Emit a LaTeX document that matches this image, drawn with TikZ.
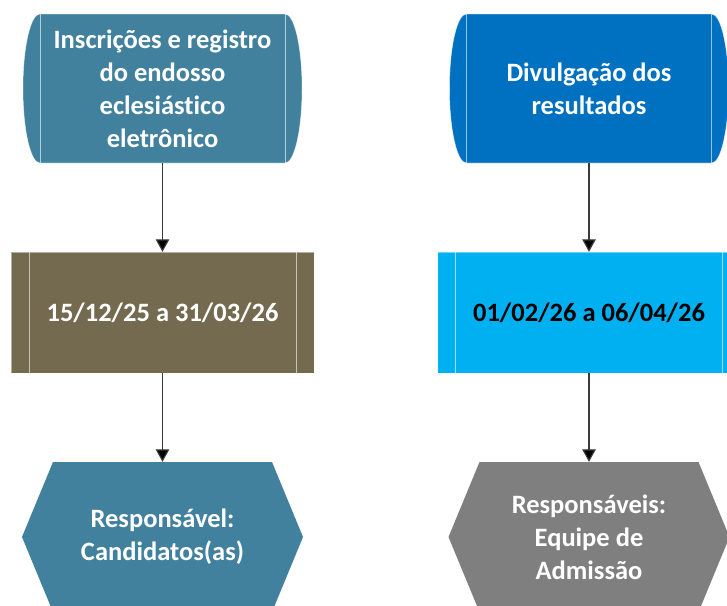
\documentclass[tikz,border=0pt]{standalone}
\usepackage{fontspec}
\setmainfont[Ligatures={NoCommon}]{Carlito}
\usetikzlibrary{arrows.meta}
\definecolor{tealc}{HTML}{41819E}
\definecolor{bluec}{HTML}{0070C0}
\definecolor{olivec}{HTML}{736A50}
\definecolor{cyanc}{HTML}{00B0F0}
\definecolor{grayc}{HTML}{7F7F7F}
\definecolor{linec}{HTML}{3A3A3A}
\newcommand\mydrum[2]{% center x, colour
  \begin{scope}[shift={(#1,88.5)}]
    \path[fill=#2,draw=white,draw opacity=0.45,line width=0.6pt]
      (-122.5,-74.5) -- (122.5,-74.5)
      .. controls (131.9,-74.5) and (139.5,-41.1) .. (139.5,0)
      .. controls (139.5,41.1) and (131.9,74.5) .. (122.5,74.5)
      -- (-122.5,74.5)
      .. controls (-131.9,74.5) and (-139.5,41.1) .. (-139.5,0)
      .. controls (-139.5,-41.1) and (-131.9,-74.5) .. (-122.5,-74.5) -- cycle;
    \draw[innerl] (-122.5,-74.5) -- (-122.5,74.5);
    \draw[innerl] (122.5,-74.5) -- (122.5,74.5);
  \end{scope}}
\newcommand\myproc[2]{%
  \begin{scope}[shift={(#1,312.5)}]
    \path[fill=#2,draw=white,draw opacity=0.45,line width=0.6pt]
      (-151.5,-60.5) rectangle (151.5,60.5);
    \draw[innerl] (-133.5,-60.5) -- (-133.5,60.5);
    \draw[innerl] (133.5,-60.5) -- (133.5,60.5);
  \end{scope}}
\newcommand\myhex[2]{%
  \begin{scope}[shift={(#1,537)}]
    \path[fill=#2]
      (-109.5,-75) -- (109.5,-75) -- (140.5,0) -- (109.5,75)
      -- (-109.5,75) -- (-140.5,0) -- cycle;
  \end{scope}}
\begin{document}
\begin{tikzpicture}[x=1pt,y=-1pt,
  innerl/.style={draw=white,draw opacity=0.6,line width=0.8pt},
  txt/.style={inner sep=0pt,align=center,
    font=\bfseries\fontsize{26.5}{33}\selectfont},
  conn/.style={draw=linec,line width=1.2pt,
    -{Triangle[length=12.5pt,width=13.5pt,fill=black]}}]
\useasboundingbox (0,0) rectangle (727,605);
\clip (0,0) rectangle (727,605);
\fill[white] (0,0) rectangle (727,605);
% shapes
\mydrum{162.5}{tealc}
\mydrum{589}{bluec}
\myproc{162.5}{olivec}
\myproc{589}{cyanc}
\myhex{162.5}{tealc}
\myhex{589}{grayc}
% text nodes (sized like the shapes)
\node[txt,text=white,minimum width=279pt,minimum height=149pt] (a1) at (162.5,88.5)
  {Inscrições e registro\\do endosso\\eclesiástico\\eletrônico};
\node[txt,text=white,minimum width=279pt,minimum height=149pt] (b1) at (589,88.5)
  {Divulgação dos\\resultados};
\node[txt,text=white,minimum width=303pt,minimum height=121pt] (a2) at (162.5,312.5)
  {15/12/25 a 31/03/26};
\node[txt,text=black,minimum width=303pt,minimum height=121pt] (b2) at (589,312.5)
  {01/02/26 a 06/04/26};
\node[txt,text=white,minimum width=281pt,minimum height=150pt] (a3) at (162.5,537)
  {Responsável:\\Candidatos(as)};
\node[txt,text=white,minimum width=281pt,minimum height=150pt] (b3) at (589,537)
  {Responsáveis:\\Equipe de\\Admissão};
% connectors
\draw[conn] (a1.south) -- (a2.north);
\draw[conn] (a2.south) -- (a3.north);
\draw[conn] (b1.south) -- (b2.north);
\draw[conn] (b2.south) -- (b3.north);
\end{tikzpicture}
\end{document}
